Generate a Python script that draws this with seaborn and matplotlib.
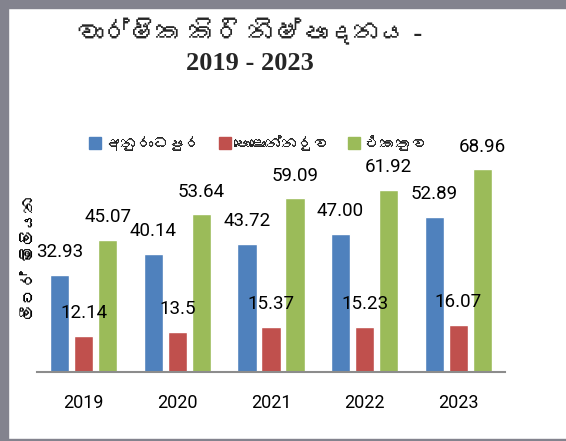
import matplotlib
matplotlib.use("Agg")
import matplotlib.pyplot as plt
import matplotlib.font_manager as fm
from matplotlib.patches import Rectangle
from matplotlib.lines import Line2D
import seaborn as sns
import pandas as pd

years = ["2019", "2020", "2021", "2022", "2023"]
series = ["අනුරාධපුර", "පොළොන්නරුව", "එකතුව"]
anuradhapura = [32.93, 40.14, 43.72, 47.00, 52.89]
polonnaruwa = [12.14, 13.5, 15.37, 15.23, 16.07]
total = [45.07, 53.64, 59.09, 61.92, 68.96]
label_anu = ["32.93", "40.14", "43.72", "47.00", "52.89"]
label_pol = ["12.14", "13.5", "15.37", "15.23", "16.07"]
label_tot = ["45.07", "53.64", "59.09", "61.92", "68.96"]
colors = ["#4F81BD", "#C0504D", "#9BBB59"]
title = "වාර්ෂික කිරි නිෂ්පාදනය -\n2019 - 2023"
ylabel = "ලීටර් මිලියන"

# find any installed font with Sinhala glyphs
sinhala_font = None
try:
    from fontTools.ttLib import TTFont
    for f in fm.fontManager.ttflist:
        try:
            tt = TTFont(f.fname, fontNumber=0, lazy=True)
            cmap = tt.getBestCmap()
            if cmap and 0x0DC0 in cmap and 0x0DCF in cmap:
                sinhala_font = f.name
                break
        except Exception:
            pass
except Exception:
    pass

sns.set_theme(style="white")
base = ["Roboto", "DejaVu Sans"]
sin_fam = ([sinhala_font] if sinhala_font else []) + ["DejaVu Sans"]
plt.rcParams["font.family"] = base

df = pd.DataFrame({
    "year": years * 3,
    "value": anuradhapura + polonnaruwa + total,
    "series": [series[0]] * 5 + [series[1]] * 5 + [series[2]] * 5,
})

W, H = 566, 441
fig = plt.figure(figsize=(W / 100, H / 100), dpi=100)
fig.patch.set_facecolor("white")

# frame
fig.add_artist(Rectangle((0, 0), 8 / W, 1, transform=fig.transFigure, color="#83838e", zorder=0))
fig.add_artist(Rectangle((0, 1 - 8 / H), 1, 8 / H, transform=fig.transFigure, color="#83838e", zorder=0))
fig.add_artist(Rectangle((0, 0), 1, 2 / H, transform=fig.transFigure, color="#83838e", zorder=0))

ax = fig.add_axes([37 / W, 69 / H, 468 / W, 235 / H])
sns.barplot(data=df, x="year", y="value", hue="series", palette=colors,
            width=0.77, ax=ax, legend=False, saturation=1)
for p in ax.patches:
    w = p.get_width()
    p.set_x(p.get_x() + w * 0.1)
    p.set_width(w * 0.8)

labels = [label_anu, label_pol, label_tot]
for cont, labs in zip(ax.containers, labels):
    for bar, lab in zip(cont, labs):
        ax.annotate(lab, (bar.get_x() + bar.get_width() / 2, bar.get_height()),
                    xytext=(0, 16.5), textcoords="offset points",
                    ha="center", va="center", fontsize=13.5, color="black")

ax.set_xlim(-0.5, 4.5)
ax.set_ylim(0, 80)
ax.set_yticks([])
ax.set_xlabel("")
ax.set_ylabel("")
for s in ["top", "right", "left"]:
    ax.spines[s].set_visible(False)
ax.spines["bottom"].set_color("#8c8c8c")
ax.spines["bottom"].set_linewidth(1.5)
ax.tick_params(axis="x", length=0, pad=16, labelsize=13, colors="black")
ax.set_facecolor("none")

fig.text(250 / W, 1 - 47 / H, title, ha="center", va="center", fontsize=19,
         fontweight="bold", family=(["Liberation Serif"] + sin_fam), linespacing=1.35)

fig.text(30 / W, 1 - 258 / H, ylabel, rotation=90, ha="center", va="center",
         fontsize=12, family=sin_fam, color="black")

handles = [Line2D([0], [0], marker="s", color="none", markerfacecolor=c,
                  markeredgecolor=c, markersize=9) for c in colors]
fig.legend(handles, series, loc="center", bbox_to_anchor=(0.455, 1 - 143 / H), ncol=3,
           frameon=False, handletextpad=0.1, columnspacing=1.0, handlelength=1.0,
           prop=fm.FontProperties(family=sin_fam, size=11.5))

fig.savefig("out.png", dpi=100)
